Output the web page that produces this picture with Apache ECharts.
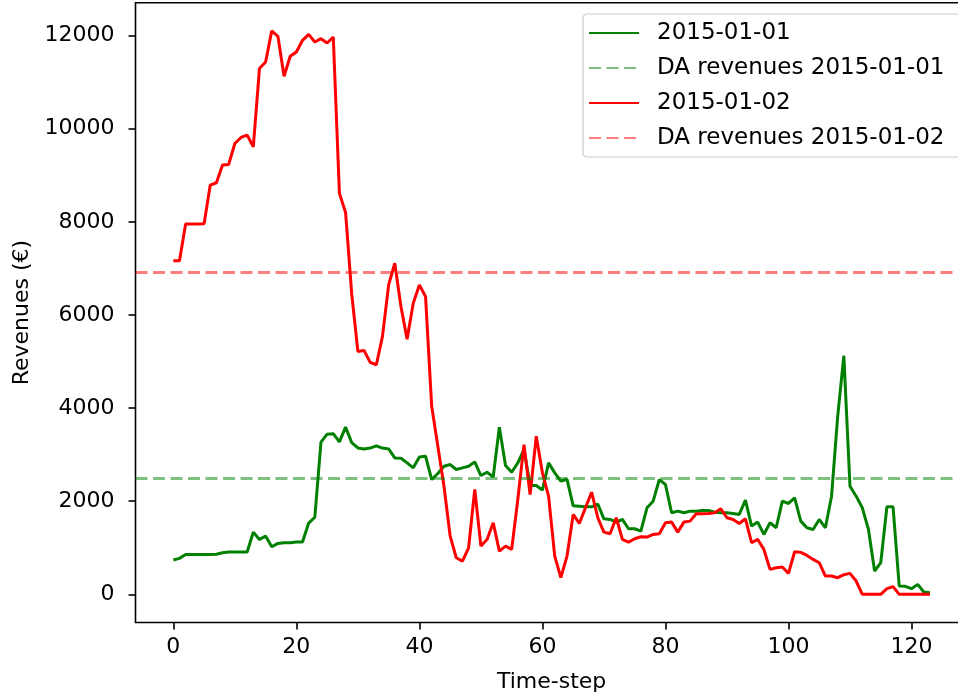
<!DOCTYPE html>
<html>
<head>
<meta charset="utf-8">
<script src="https://cdn.jsdelivr.net/npm/echarts@6/dist/echarts.min.js"></script>
<style>
  html, body { margin: 0; padding: 0; background: #ffffff; }
  #chart { width: 958px; height: 697px; }
</style>
</head>
<body>
<div id="chart"></div>
<script>
// Intraday revenues per time-step for two days, plus their day-ahead (DA) revenue levels.
const dayLabels = ['2015-01-01', '2015-01-02'];

const revenuesDay1 = [
  736, 772, 857, 857, 857, 857, 857, 860, 893, 908,
  908, 908, 908, 1336, 1179, 1250, 1022, 1093, 1108, 1108,
  1122, 1122, 1530, 1655, 3270, 3440, 3450, 3275, 3590, 3258,
  3144, 3122, 3140, 3190, 3140, 3122, 2930, 2923, 2823, 2716,
  2951, 2966, 2465, 2594, 2751, 2787, 2680, 2716, 2751, 2844,
  2551, 2622, 2522, 3587, 2766, 2622, 2823, 3108, 2337, 2337,
  2237, 2823, 2608, 2430, 2470, 1900, 1893, 1879, 1879, 1936,
  1622, 1608, 1551, 1608, 1408, 1408, 1358, 1858, 2001, 2465,
  2358, 1751, 1786, 1751, 1786, 1786, 1800, 1800, 1765, 1751,
  1751, 1736, 1715, 2022, 1465, 1551, 1286, 1537, 1429, 2001,
  1951, 2072, 1572, 1429, 1393, 1608, 1429, 2108, 3822, 5123,
  2322, 2108, 1858, 1393, 500, 679, 1879, 1879, 179, 172,
  122, 214, 50, 36
];

const revenuesDay2 = [
  7166, 7166, 7953, 7953, 7953, 7960, 8789, 8838, 9218, 9232,
  9682, 9811, 9861, 9610, 11290, 11433, 12100, 11983, 11125, 11554,
  11647, 11897, 12026, 11862, 11933, 11840, 11968, 8611, 8200, 6450,
  5216, 5238, 4980, 4930, 5538, 6645, 7110, 6180, 5480, 6252,
  6645, 6395, 4037, 3180, 2322, 1250, 786, 714, 1000, 2251,
  1036, 1179, 1537, 929, 1036, 965, 2036, 3215, 2144, 3394,
  2609, 2108, 822, 357, 822, 1715, 1522, 1858, 2193, 1644,
  1336, 1301, 1644, 1179, 1122, 1194, 1236, 1229, 1286, 1301,
  1537, 1551, 1336, 1551, 1572, 1729, 1729, 1736, 1750, 1837,
  1644, 1608, 1522, 1622, 1108, 1179, 965, 536, 572, 586,
  450, 915, 901, 836, 750, 679, 393, 393, 357, 422,
  450, 286, 0, 0, 0, 0, 122, 165, 0, 0,
  0, 0, 0, 0
];

const daRevenues = [2495, 6925];

const xTicks = [0, 20, 40, 60, 80, 100, 120];
const yTicks = [0, 2000, 4000, 6000, 8000, 10000, 12000];

const FONT = 'DejaVu Sans';
const lineColors = ['#008000', '#ff0000'];
const daColors = ['rgba(0,128,0,0.5)', 'rgba(255,0,0,0.5)'];
const dashPattern = [12, 5.5];

const toPoints = vals => vals.map((v, i) => [i, v]);

function revenueSeries(name, vals, color) {
  return {
    name: name,
    type: 'line',
    data: toPoints(vals),
    symbol: 'none',
    showSymbol: false,
    animation: false,
    lineStyle: { color: color, width: 3 },
    itemStyle: { color: color },
    z: 3
  };
}

function daSeries(name, value, color) {
  return {
    name: name,
    type: 'line',
    data: [],
    symbol: 'none',
    animation: false,
    lineStyle: { color: color, width: 3, type: dashPattern },
    itemStyle: { color: color },
    markLine: {
      silent: true,
      symbol: 'none',
      animation: false,
      label: { show: false },
      lineStyle: { color: color, width: 3, type: dashPattern },
      emphasis: { disabled: true },
      data: [{ yAxis: value }]
    },
    z: 2
  };
}

const chart = echarts.init(document.getElementById('chart'), null, { renderer: 'canvas' });

chart.setOption({
  backgroundColor: '#ffffff',
  animation: false,
  textStyle: { fontFamily: FONT },
  grid: {
    left: 135.5,
    top: 2.7,
    width: 832.3,
    height: 619.8,
    outerBoundsMode: 'none',
    containLabel: false,
    show: true,
    borderColor: '#000000',
    borderWidth: 1.6,
    backgroundColor: 'transparent'
  },
  legend: {
    orient: 'vertical',
    left: 583,
    top: 14,
    padding: [7, 60, 7, 5],
    itemGap: 11,
    itemWidth: 50,
    itemHeight: 14,
    backgroundColor: 'rgba(255,255,255,0.8)',
    borderColor: '#cccccc',
    borderWidth: 1.2,
    borderRadius: 4,
    selectedMode: false,
    itemStyle: { opacity: 0, borderWidth: 0 },
    data: [
      dayLabels[0], 'DA revenues ' + dayLabels[0],
      dayLabels[1], 'DA revenues ' + dayLabels[1]
    ],
    textStyle: {
      fontFamily: FONT,
      fontSize: 23,
      color: '#000000',
      lineHeight: 24,
      padding: [0, 0, 0, 13]
    }
  },
  xAxis: {
    type: 'value',
    min: -6.15,
    max: 129.15,
    name: 'Time-step',
    nameLocation: 'middle',
    nameGap: 49,
    nameTextStyle: { fontFamily: FONT, fontSize: 22, color: '#000000' },
    axisLine: { show: false, onZero: false },
    splitLine: { show: false },
    axisTick: {
      show: true,
      length: 7,
      customValues: xTicks,
      lineStyle: { color: '#000000', width: 1.6 }
    },
    axisLabel: {
      customValues: xTicks,
      margin: 14,
      fontFamily: FONT,
      fontSize: 22,
      color: '#000000',
      formatter: v => String(v)
    }
  },
  yAxis: {
    type: 'value',
    min: -605,
    max: 12705,
    name: 'Revenues (€)',
    nameLocation: 'middle',
    nameRotate: 90,
    nameGap: 100,
    nameTextStyle: { fontFamily: FONT, fontSize: 22, color: '#000000' },
    axisLine: { show: false, onZero: false },
    splitLine: { show: false },
    axisTick: {
      show: true,
      length: 7,
      customValues: yTicks,
      lineStyle: { color: '#000000', width: 1.6 }
    },
    axisLabel: {
      customValues: yTicks,
      margin: 21,
      fontFamily: FONT,
      fontSize: 22,
      color: '#000000',
      formatter: v => String(v)
    }
  },
  series: [
    revenueSeries(dayLabels[0], revenuesDay1, lineColors[0]),
    daSeries('DA revenues ' + dayLabels[0], daRevenues[0], daColors[0]),
    revenueSeries(dayLabels[1], revenuesDay2, lineColors[1]),
    daSeries('DA revenues ' + dayLabels[1], daRevenues[1], daColors[1])
  ]
});
</script>
</body>
</html>
